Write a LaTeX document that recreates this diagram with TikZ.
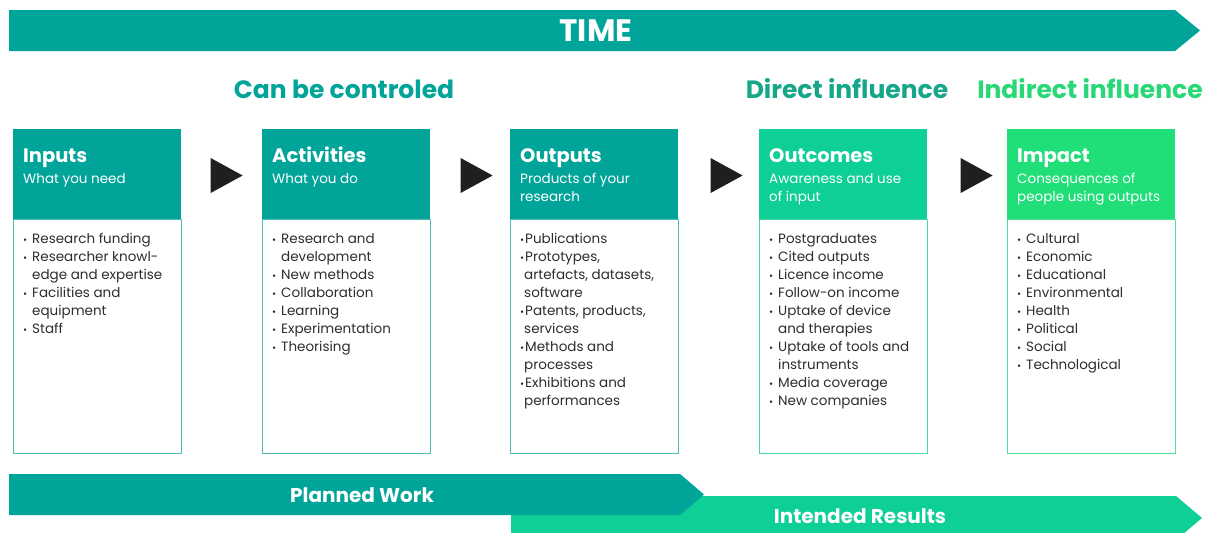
\documentclass[tikz,border=0pt]{standalone}
\usepackage{fontspec}
\setmainfont{Poppins}
\usetikzlibrary{shapes.geometric,calc}
\definecolor{cTeal}{RGB}{0,164,153}
\definecolor{cTealL}{RGB}{80,190,182}
\definecolor{cMint}{RGB}{14,207,150}
\definecolor{cMintL}{RGB}{70,215,170}
\definecolor{cGreen}{RGB}{32,222,120}
\definecolor{cGreenL}{RGB}{80,225,150}
\definecolor{cDirect}{RGB}{22,166,138}
\definecolor{cIndirect}{RGB}{40,216,118}
\definecolor{cText}{RGB}{45,45,45}
\newcommand{\bu}[1]{\makebox[9pt][l]{\fontsize{10}{18}\selectfont •}#1}
\newcommand{\cu}[1]{\hspace*{9pt}#1}
\newcommand{\bo}[1]{\makebox[5pt][l]{\fontsize{10}{18}\selectfont •}#1}
\newcommand{\co}[1]{\hspace*{4pt}#1}
\newcommand{\lines}[1]{\begin{tabular}[t]{@{}l@{}}#1\end{tabular}}
\begin{document}
\begin{tikzpicture}[x=1pt,y=-1pt,
  hdr/.style={fill=#1, draw=none, minimum width=168pt, minimum height=90pt, anchor=north west, inner sep=0},
  bodybox/.style={draw=#1, line width=1pt, minimum width=168pt, minimum height=234pt, anchor=north west, inner sep=0},
  ttl/.style={text=white, font=\fontsize{19.5}{22}\selectfont\bfseries, anchor=base west, inner sep=0},
  sub/.style={text=white, font=\fontsize{13.5}{18}\selectfont, anchor=base west, inner sep=0},
  lst/.style={text=cText, font=\fontsize{13.5}{18}\selectfont, anchor=base west, inner sep=0},
  tri/.style={isosceles triangle, isosceles triangle stretches, fill=black!88, minimum width=35pt, minimum height=32pt, inner sep=0},
  band/.style={text=white, font=\fontsize{#1}{22}\selectfont\bfseries, inner sep=0},
  grp/.style={font=\fontsize{25}{28}\selectfont\bfseries, inner sep=0}
]
\useasboundingbox (0,0) rectangle (1208,533);

% top TIME arrow
\fill[cTeal] (9,10) -- (1175,10) -- (1200,30.5) -- (1175,51) -- (9,51) -- cycle;
\node[band=31] (time) at (596,31) {TIME};

% group labels
\node[grp, text=cTeal] (ctrl) at (344,89) {Can be controled};
\node[grp, text=cDirect] (dir) at (847,89) {Direct influence};
\node[grp, text=cIndirect] (indir) at (1090,89) {Indirect influence};

% boxes
\node[hdr=cTeal] (inH) at (13,129) {};
\node[bodybox=cTealL] (inB) at (13,219) {};
\node[hdr=cTeal] (acH) at (262,129) {};
\node[bodybox=cTealL] (acB) at (262,219) {};
\node[hdr=cTeal] (ouH) at (510,129) {};
\node[bodybox=cTealL] (ouB) at (510,219) {};
\node[hdr=cMint] (ocH) at (759,129) {};
\node[bodybox=cMintL] (ocB) at (759,219) {};
\node[hdr=cGreen] (imH) at (1007,129) {};
\node[bodybox=cGreenL] (imB) at (1007,219) {};

% titles
\node[ttl] (inT) at ($(inH.north west)+(10,33)$) {Inputs};
\node[sub] (inS) at ($(inH.north west)+(10,54)$) {What you need};
\node[ttl] (acT) at ($(acH.north west)+(10,33)$) {Activities};
\node[sub] (acS) at ($(acH.north west)+(10,54)$) {What you do};
\node[ttl] (ouT) at ($(ouH.north west)+(10,33)$) {Outputs};
\node[sub] (ouS) at ($(ouH.north west)+(10,54)$) {\lines{Products of your\\research}};
\node[ttl] (ocT) at ($(ocH.north west)+(10,33)$) {Outcomes};
\node[sub] (ocS) at ($(ocH.north west)+(10,54)$) {\lines{Awareness and use\\of input}};
\node[ttl] (imT) at ($(imH.north west)+(10,33)$) {Impact};
\node[sub] (imS) at ($(imH.north west)+(10,54)$) {\lines{Consequences of\\people using outputs}};

% lists
\node[lst] (inL) at ($(inB.north west)+(10,24)$) {\lines{\bu{Research funding}\\\bu{Researcher knowl-}\\\cu{edge and expertise}\\\bu{Facilities and}\\\cu{equipment}\\\bu{Staff}}};
\node[lst] (acL) at ($(acB.north west)+(10,24)$) {\lines{\bu{Research and}\\\cu{development}\\\bu{New methods}\\\bu{Collaboration}\\\bu{Learning}\\\bu{Experimentation}\\\bu{Theorising}}};
\node[lst] (ouL) at ($(ouB.north west)+(10,24)$) {\lines{\bo{Publications}\\\bo{Prototypes,}\\\co{artefacts, datasets,}\\\co{software}\\\bo{Patents, products,}\\\co{services}\\\bo{Methods and}\\\co{processes}\\\bo{Exhibitions and}\\\co{performances}}};
\node[lst] (ocL) at ($(ocB.north west)+(10,24)$) {\lines{\bu{Postgraduates}\\\bu{Cited outputs}\\\bu{Licence income}\\\bu{Follow-on income}\\\bu{Uptake of device}\\\cu{and therapies}\\\bu{Uptake of tools and}\\\cu{instruments}\\\bu{Media coverage}\\\bu{New companies}}};
\node[lst] (imL) at ($(imB.north west)+(10,24)$) {\lines{\bu{Cultural}\\\bu{Economic}\\\bu{Educational}\\\bu{Environmental}\\\bu{Health}\\\bu{Political}\\\bu{Social}\\\bu{Technological}}};

% arrow heads between boxes
\node[tri] (t1) at (221,175.5) {};
\node[tri] (t2) at (471,175.5) {};
\node[tri] (t3) at (721,175.5) {};
\node[tri] (t4) at (971,175.5) {};

% bottom bands
\fill[cMint] (511,496) -- (1176,496) -- (1202,518) -- (1176,540) -- (511,540) -- cycle;
\fill[cTeal] (9,474) -- (680,474) -- (704,494.5) -- (680,515) -- (9,515) -- cycle;
\node[band=20] (plan) at (362,495) {Planned Work};
\node[band=20] (res) at (860,516) {Intended Results};
\end{tikzpicture}
\end{document}
